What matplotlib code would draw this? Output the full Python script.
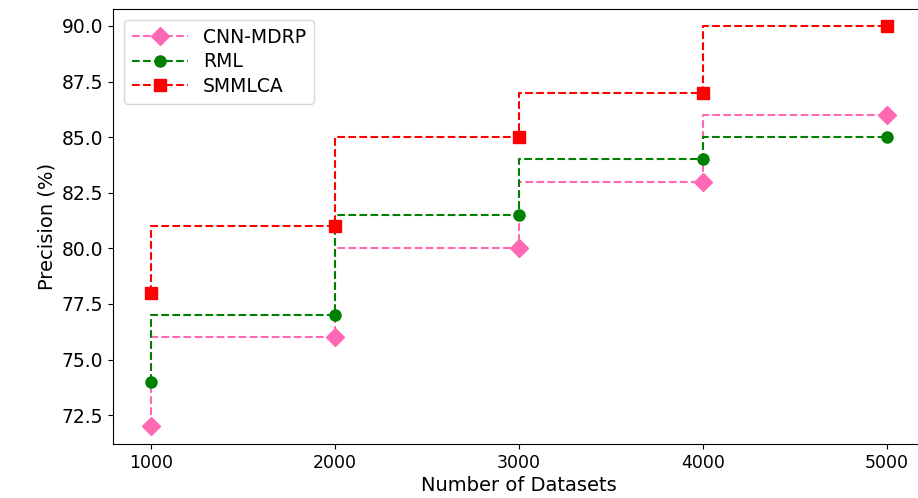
import numpy as np
from matplotlib import pyplot as plt

datasets = [1000, 2000, 3000, 4000, 5000]
cnn_mdrp = [72, 76, 80, 83, 86]
rml = [74, 77, 81.5, 84, 85]
smmlca = [78, 81, 85, 87, 90]

fig = plt.figure(figsize=(9.18, 4.98), dpi=100)
# right spine falls just outside the picture, as in the reference
ax = fig.add_axes([0.123, 0.1084, 0.8845, 0.8735])

ax.plot(datasets, cnn_mdrp, drawstyle="steps-pre", linestyle="--", marker="D",
        color="hotpink", markersize=9, linewidth=1.5, label="CNN-MDRP")
ax.plot(datasets, rml, drawstyle="steps-pre", linestyle="--", marker="o",
        color="green", markersize=8, linewidth=1.5, label="RML")
ax.plot(datasets, smmlca, drawstyle="steps-pre", linestyle="--", marker="s",
        color="red", markersize=8, linewidth=1.5, label="SMMLCA")

ax.set_xlim(793, 5207)
ax.set_ylim(71.2, 90.76)
ax.set_xticks(datasets)
ax.set_yticks(np.arange(72.5, 90.1, 2.5))
ax.tick_params(axis="x", labelsize=12.5)
ax.tick_params(axis="y", labelsize=13.5)
ax.set_xlabel("Number of Datasets", fontsize=14, labelpad=3)
ax.set_ylabel("Precision (%)", fontsize=14)
ax.legend(loc="upper left", fontsize=13.5, handlelength=3.0, labelspacing=0.3,
          borderaxespad=0.6)

fig.savefig("out.png", dpi=100)
